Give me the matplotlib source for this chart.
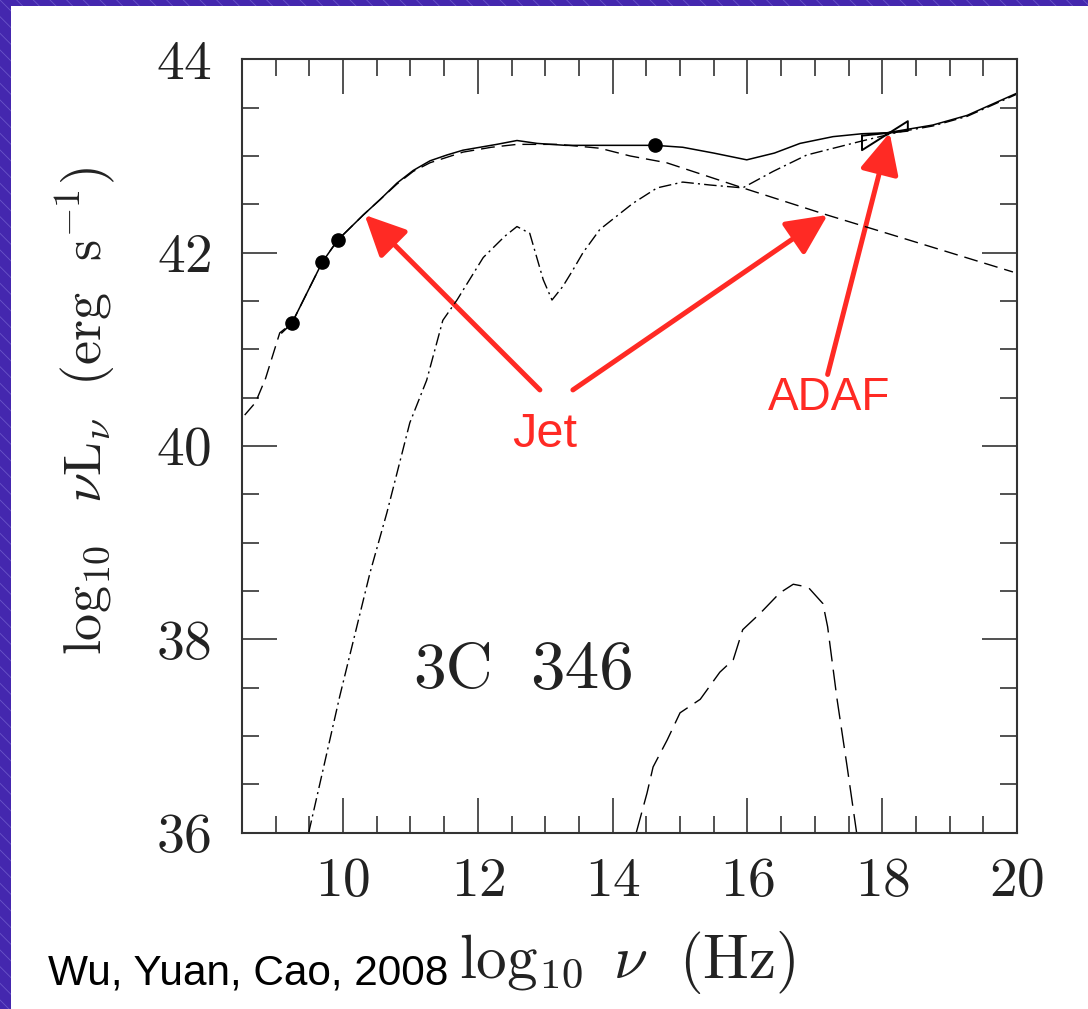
'''
SED of 3C 346 (jet + ADAF model), redrawn from slide figure
'''

import matplotlib
matplotlib.use('Agg')
import matplotlib.pyplot as plt
from matplotlib.patches import Rectangle, FancyArrowPatch
from matplotlib.ticker import MultipleLocator

# ========================================================================
# data
# ========================================================================

# total model (solid)
total_x = [9.09, 9.24, 9.69, 9.92, 10.30, 10.55, 10.80, 11.04, 11.29, 11.54, 11.78,
           12.28, 12.58, 12.88, 13.30, 13.81, 14.63, 15.04, 15.50, 15.99, 16.40,
           16.78, 17.27, 17.70, 18.07, 18.75, 19.26, 20.00]
total_y = [41.17, 41.27, 41.90, 42.13, 42.39, 42.55, 42.72, 42.85, 42.95, 43.01, 43.06,
           43.12, 43.16, 43.13, 43.11, 43.11, 43.11, 43.09, 43.03, 42.96, 43.03,
           43.13, 43.20, 43.23, 43.24, 43.32, 43.42, 43.65]

# jet (short dashed)
jet_x = [8.54, 8.70, 8.85, 9.06, 9.24, 9.69, 9.92, 10.30, 10.55, 10.80, 11.04, 11.29,
         11.78, 12.20, 12.58, 13.20, 13.81, 14.26, 14.80, 15.93, 17.18, 18.26, 19.94]
jet_y = [40.32, 40.45, 40.70, 41.17, 41.27, 41.90, 42.13, 42.39, 42.55, 42.71, 42.84,
         42.93, 43.04, 43.09, 43.12, 43.12, 43.08, 43.00, 42.93, 42.67, 42.39, 42.16, 41.80]

# ADAF (dash-dot)
adaf_x = [9.49, 9.95, 10.40, 10.65, 10.99, 11.24, 11.48, 11.69, 12.08, 12.40, 12.58,
          12.77, 12.97, 13.10, 13.26, 13.41, 13.56, 13.81, 14.30, 14.66, 15.04,
          15.44, 15.93, 16.38, 16.88, 17.67, 18.26, 18.75, 19.26, 20.00]
adaf_y = [36.00, 37.41, 38.69, 39.31, 40.24, 40.68, 41.30, 41.51, 41.95, 42.17, 42.27,
          42.20, 41.72, 41.51, 41.65, 41.82, 42.00, 42.24, 42.51, 42.67, 42.73,
          42.70, 42.67, 42.84, 43.01, 43.15, 43.25, 43.31, 43.41, 43.64]

# thin disk bump (long dashed)
disk_x = [14.35, 14.51, 14.60, 14.81, 15.00, 15.30, 15.59, 15.79, 15.93, 16.19,
          16.48, 16.68, 16.90, 17.12, 17.19, 17.33, 17.48, 17.62]
disk_y = [36.00, 36.41, 36.68, 36.96, 37.24, 37.38, 37.66, 37.79, 38.10, 38.27,
          38.48, 38.57, 38.54, 38.37, 38.13, 37.38, 36.68, 36.00]

# observed points
obs_x = [9.24, 9.69, 9.92, 14.63]
obs_y = [41.27, 41.90, 42.13, 43.11]

# X-ray bowtie
bow_x = [17.70, 18.38, 18.38, 17.70, 17.70]
bow_y = [43.21, 43.26, 43.36, 43.06, 43.21]

# red annotation arrows: (tail, tip) in data units
arrows = [((12.92, 40.58), (10.32, 42.39)),
          ((13.41, 40.58), (17.19, 42.39)),
          ((17.19, 40.74), (18.11, 43.24))]

red = '#ff2a24'
purple = '#4427ae'
ink = '#222222'

# ========================================================================
# plot
# ========================================================================

plt.rcParams['mathtext.fontset'] = 'cm'
plt.rcParams['axes.formatter.use_mathtext'] = True
plt.rcParams['hatch.linewidth'] = 0.6
plt.rcParams['hatch.color'] = '#6a55c8'

fig = plt.figure(figsize=(10.88, 10.09), dpi=100, facecolor=purple)

# slide background: purple border with hatching, white page
fig.patches.append(Rectangle((0, 0), 1, 1, transform=fig.transFigure,
                             facecolor=purple, edgecolor='#6a55c8', hatch='\\\\',
                             linewidth=0, zorder=-3))
fig.patches.append(Rectangle((11/1088, 0), 1, 1 - 6/1009, transform=fig.transFigure,
                             facecolor='white', edgecolor='none', zorder=-2))

ax = fig.add_axes([242/1088, 1 - 832.7/1009, 775/1088, 773.4/1009])
ax.set_facecolor('white')

ax.plot(total_x, total_y, '-', color='black', lw=1.1)
ax.plot(jet_x, jet_y, color='black', lw=1.0, linestyle=(0, (10, 5)))
ax.plot(adaf_x, adaf_y, color='black', lw=1.0, linestyle=(0, (9, 3, 1.5, 3)))
ax.plot(disk_x, disk_y, color='black', lw=1.0, linestyle=(0, (15, 6)))
ax.plot(obs_x, obs_y, 'o', color='black', markersize=9.5)
ax.plot(bow_x, bow_y, '-', color='black', lw=1.4)

ax.set_xlim(8.5, 20)
ax.set_ylim(36, 44)

ax.xaxis.set_major_locator(MultipleLocator(2))
ax.xaxis.set_minor_locator(MultipleLocator(0.5))
ax.yaxis.set_major_locator(MultipleLocator(2))
ax.yaxis.set_minor_locator(MultipleLocator(0.5))

ax.tick_params(which='both', direction='in', top=True, right=True,
               color='#333333', width=1.2)
ax.tick_params(which='major', length=25)
ax.tick_params(which='minor', length=12.5)
ax.tick_params(axis='x', which='major', pad=18)
ax.tick_params(axis='y', which='major', pad=22)
for sp in ax.spines.values():
    sp.set_linewidth(1.5)
    sp.set_color('#333333')

for lab in ax.get_xticklabels() + ax.get_yticklabels():
    lab.set_fontfamily('cmr10')
    lab.set_fontsize(40)
    lab.set_color(ink)

ax.set_xlabel(r'$\log_{10}\ \nu\ \ ({\rm Hz})$', fontsize=44, color=ink)
ax.xaxis.set_label_coords(0.497, -0.125)
ax.xaxis.label.set_va('top')
ax.set_ylabel(r'$\log_{10}\ \ \nu{\rm L}_\nu\ \ ({\rm erg\ \ s^{-1}})$', fontsize=39,
              color=ink)
ax.yaxis.set_label_coords(-0.16, 0.545)

# source name, placed as two words like the original
ax.text(11.04, 37.5, '3C', fontfamily='cmr10', fontsize=47, color=ink,
        va='baseline', ha='left')
ax.text(12.77, 37.5, '346', fontfamily='cmr10', fontsize=50, color=ink,
        va='baseline', ha='left')

# red annotations
for tail, tip in arrows:
    ax.add_patch(FancyArrowPatch(tail, tip, arrowstyle='-|>,head_length=1.25,head_width=0.6',
                                 mutation_scale=20, color=red, lw=3.6, shrinkA=0, shrinkB=0,
                                 clip_on=False))
ax.text(12.99, 40.12, 'Jet', fontfamily='Liberation Sans', fontsize=35, color=red,
        ha='center', va='center')
ax.text(17.21, 40.5, 'ADAF', fontfamily='Liberation Sans', fontsize=33, color=red,
        ha='center', va='center')

fig.text(48/1088, 1 - 985/1009, 'Wu, Yuan, Cao, 2008', fontfamily='Liberation Sans',
         fontsize=30.5, color='black', ha='left', va='baseline')

plt.savefig('out.png', dpi=100, facecolor=fig.get_facecolor())
